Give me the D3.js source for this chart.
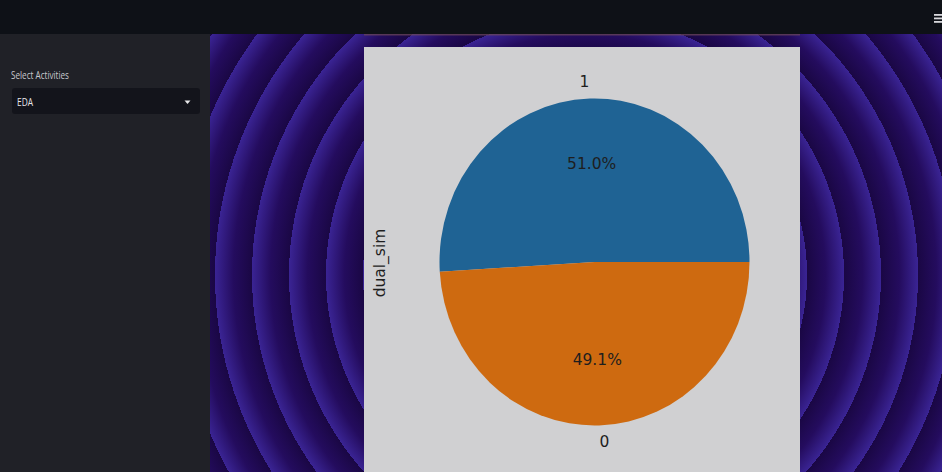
<!DOCTYPE html>
<html><head><meta charset="utf-8">
<script src="https://cdn.jsdelivr.net/npm/d3@7"></script>
<style>html,body{margin:0;padding:0;background:#0e1117;overflow:hidden}</style>
</head><body>
<svg id="chart" width="942" height="472"></svg>
<script>
const categories = ["1", "0"];
const counts = [1019, 981];
const pctLabels = ["51.0%", "49.1%"];
const seriesName = "dual_sim";
const sidebarLabel = "Select Activities";
const selectValue = "EDA";
const colors = ["#1f6394", "#ce6a10"];

const W = 942, H = 472;
const svg = d3.select("#chart");
const defs = svg.append("defs");

// ring background
const rg = defs.append("radialGradient").attr("id","rings")
  .attr("gradientUnits","userSpaceOnUse").attr("cx",585).attr("cy",275).attr("r",37)
  .attr("fx",585).attr("fy",275).attr("spreadMethod","repeat");
rg.append("stop").attr("offset","0").attr("stop-color","#1a0744");
rg.append("stop").attr("offset","0.5").attr("stop-color","#240c5e");
rg.append("stop").attr("offset","1").attr("stop-color","#3a2494");

svg.append("rect").attr("x",0).attr("y",0).attr("width",W).attr("height",H).attr("fill","#0e1117");
svg.append("rect").attr("x",210).attr("y",34).attr("width",W-210).attr("height",H-34).attr("fill","url(#rings)");
// sidebar
svg.append("rect").attr("x",0).attr("y",34).attr("width",210).attr("height",H-34).attr("fill","#202127");
svg.append("text").attr("x",11).attr("y",79).attr("fill","#c8c9ce")
  .attr("font-family","Open Sans").attr("font-size",10)
  .attr("textLength",58).attr("lengthAdjust","spacingAndGlyphs").text(sidebarLabel);
svg.append("rect").attr("x",12).attr("y",88).attr("width",188).attr("height",26).attr("rx",3).attr("fill","#13141b");
svg.append("text").attr("x",17).attr("y",105.5).attr("fill","#e8e8ea")
  .attr("font-family","Open Sans").attr("font-size",10.5)
  .attr("textLength",16).attr("lengthAdjust","spacingAndGlyphs").text(selectValue);
svg.append("path").attr("d","M184.5,100.5 L190.5,100.5 L187.5,104 Z").attr("fill","#e8e8ea");
// hamburger
[15,18.5,22].forEach(y=>svg.append("rect").attr("x",934).attr("y",y-1).attr("width",8).attr("height",1.8).attr("fill","#d8d8dc"));

// faint line above figure
svg.append("rect").attr("x",364).attr("y",34).attr("width",436).attr("height",1.5).attr("fill","#6e4a55").attr("opacity",0.7);
// figure box
svg.append("rect").attr("x",364).attr("y",47).attr("width",436).attr("height",H-47).attr("fill","#d0d0d2");

// pie
const cx = 594.5, cy = 262, rx = 155, ry = 163.5;
const pie = d3.pie().sort(null).startAngle(Math.PI/2).endAngle(Math.PI/2 - 2*Math.PI);
const arcs = pie(counts);
const arc = d3.arc().innerRadius(0).outerRadius(rx);
const g = svg.append("g").attr("transform",`translate(${cx},${cy}) scale(1,${ry/rx})`);
g.selectAll("path").data(arcs).join("path").attr("d",arc).attr("fill",(d,i)=>colors[i]);

const labArc = d3.arc().innerRadius(rx*1.1).outerRadius(rx*1.1);
const pctArc = d3.arc().innerRadius(rx*0.6).outerRadius(rx*0.6);
const sy = ry/rx;
const tg = svg.append("g").attr("font-family","DejaVu Sans").attr("font-size",15.5).attr("fill","#1e1e1e");
arcs.forEach((d,i)=>{
  const [lx,ly] = labArc.centroid(d);
  tg.append("text").attr("x",cx+lx).attr("y",cy+ly*sy).attr("dominant-baseline","central")
    .attr("text-anchor", lx<0 ? "end" : "start").text(categories[i]);
  const [px,py] = pctArc.centroid(d);
  tg.append("text").attr("x",cx+px).attr("y",cy+py*sy).attr("dominant-baseline","central")
    .attr("text-anchor","middle").text(pctLabels[i]);
});
tg.append("text").attr("transform",`translate(385,263) rotate(-90)`).attr("text-anchor","middle").text(seriesName);
</script>
</body></html>
